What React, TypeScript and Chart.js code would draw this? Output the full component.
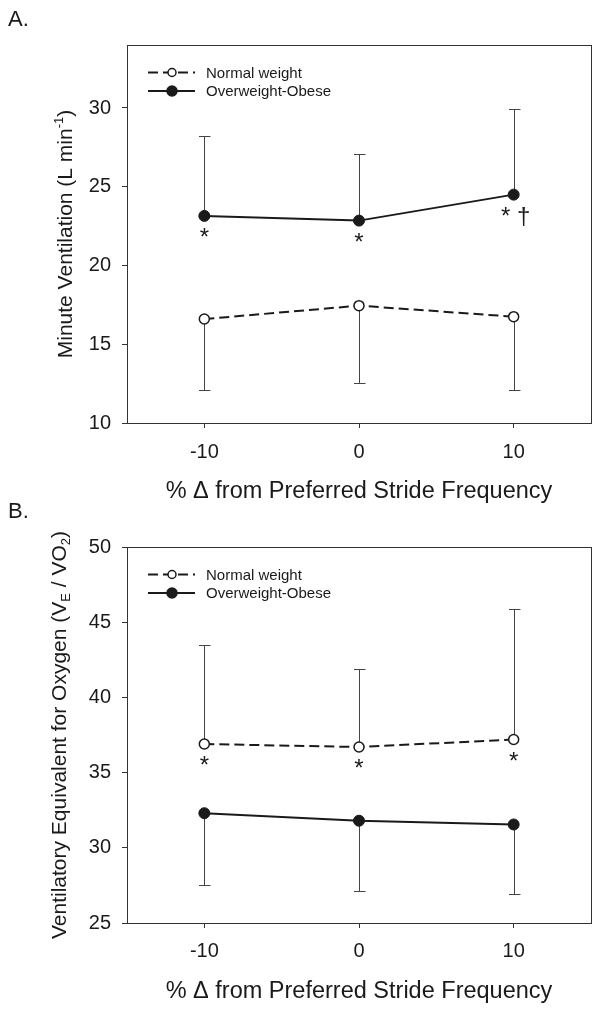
import React, { useEffect, useRef } from "react";
import { Chart, registerables } from "chart.js";
Chart.register(...registerables);

const FONT = "'Liberation Sans', Arial, Helvetica, sans-serif";
const INK = "#1a1a1a";

// Shared x values / ticks
const strideX = [-10, 0, 10];
const xTicks = [-10, 0, 10];
const xTitle = "% \u0394 from Preferred Stride Frequency";
const seriesNames = ["Normal weight", "Overweight-Obese"];

// Panel A: Minute ventilation
const veNormal = [16.6, 17.45, 16.75];
const veNormalErrEnd = [12.1, 12.55, 12.1];
const veOver = [23.15, 22.85, 24.5];
const veOverErrEnd = [28.25, 27.1, 29.95];
const veTicks = [10, 15, 20, 25, 30];
const veSig = ["*", "*", "* \u2020"];

// Panel B: Ventilatory equivalent for oxygen
const eqNormal = [36.9, 36.7, 37.2];
const eqNormalErrEnd = [43.5, 41.9, 45.9];
const eqOver = [32.3, 31.8, 31.55];
const eqOverErrEnd = [27.5, 27.1, 26.95];
const eqTicks = [25, 30, 35, 40, 45, 50];
const eqSig = ["*", "*", "*"];

type Seg = { t: string; sub?: boolean; sup?: boolean };

interface PanelCfg {
  letter: string;
  yMin: number;
  yMax: number;
  yTicks: number[];
  normal: number[];
  normalErr: number[];
  over: number[];
  overErr: number[];
  sig: string[];
  sigOn: "normal" | "over";
  yTitle: Seg[];
  yTitleBaseX: number;
  padTop: number;
  plotBottom: number;
  canvasH: number;
  xTitlePadBottom: number;
  xTickPad: number;
  letterY: number;
}

const panelA: PanelCfg = {
  letter: "A.",
  yMin: 10,
  yMax: 34,
  yTicks: veTicks,
  normal: veNormal,
  normalErr: veNormalErrEnd,
  over: veOver,
  overErr: veOverErrEnd,
  sig: veSig,
  sigOn: "over",
  yTitle: [{ t: "Minute Ventilation (L min" }, { t: "-1", sup: true }, { t: ")" }],
  yTitleBaseX: 72,
  padTop: 45,
  plotBottom: 423,
  canvasH: 507,
  xTitlePadBottom: 1,
  xTickPad: 12,
  letterY: 26,
};

const panelB: PanelCfg = {
  letter: "B.",
  yMin: 25,
  yMax: 50,
  yTicks: eqTicks,
  normal: eqNormal,
  normalErr: eqNormalErrEnd,
  over: eqOver,
  overErr: eqOverErrEnd,
  sig: eqSig,
  sigOn: "normal",
  yTitle: [
    { t: "Ventilatory Equivalent for Oxygen (V" },
    { t: "E", sub: true },
    { t: " / VO" },
    { t: "2", sub: true },
    { t: ")" },
  ],
  yTitleBaseX: 66,
  padTop: 52,
  plotBottom: 428,
  canvasH: 519,
  xTitlePadBottom: 8,
  xTickPad: 11,
  letterY: 23,
};

function Panel({ cfg, top }: { cfg: PanelCfg; top: number }) {
  const ref = useRef<HTMLCanvasElement>(null);
  useEffect(() => {
    const canvas = ref.current!;
    const toXY = (ys: number[]) => strideX.map((x, i) => ({ x, y: ys[i] }));

    const overlay = {
      id: "overlay",
      beforeDatasetsDraw(chart: any) {
        const ctx = chart.ctx;
        const xs = chart.scales.x;
        const ys = chart.scales.y;
        const ca = chart.chartArea;
        ctx.save();
        // box
        ctx.strokeStyle = "#333";
        ctx.lineWidth = 1;
        ctx.strokeRect(
          Math.round(ca.left) + 0.5,
          Math.round(ca.top) + 0.5,
          Math.round(ca.right - ca.left),
          Math.round(ca.bottom - ca.top)
        );
        // error bars
        ctx.strokeStyle = "#444";
        ctx.lineWidth = 1;
        const bars = [
          [cfg.normal, cfg.normalErr],
          [cfg.over, cfg.overErr],
        ];
        bars.forEach(([vals, ends]) => {
          strideX.forEach((xv, i) => {
            const px = Math.round(xs.getPixelForValue(xv)) + 0.5;
            const p0 = ys.getPixelForValue(vals[i]);
            const p1 = Math.round(ys.getPixelForValue(ends[i])) + 0.5;
            ctx.beginPath();
            ctx.moveTo(px, p0);
            ctx.lineTo(px, p1);
            ctx.moveTo(px - 5.5, p1);
            ctx.lineTo(px + 6, p1);
            ctx.stroke();
          });
        });
        ctx.restore();
      },
      afterDatasetsDraw(chart: any) {
        const ctx = chart.ctx;
        const xs = chart.scales.x;
        const ys = chart.scales.y;
        const ca = chart.chartArea;
        ctx.save();
        // significance marks
        ctx.fillStyle = INK;
        ctx.font = `24px ${FONT}`;
        ctx.textAlign = "center";
        ctx.textBaseline = "alphabetic";
        const base = cfg.sigOn === "over" ? cfg.over : cfg.normal;
        strideX.forEach((xv, i) => {
          const px = xs.getPixelForValue(xv);
          const py = ys.getPixelForValue(base[i]);
          ctx.fillText(cfg.sig[i], px + (cfg.sig[i].length > 1 ? 2 : 0), py + 29);
        });
        // legend
        const lx0 = ca.left + 21;
        const lx1 = ca.left + 68;
        const lcx = ca.left + 45;
        const rows = [ca.top + 27.5, ca.top + 46];
        ctx.font = `15px ${FONT}`;
        ctx.textAlign = "left";
        ctx.textBaseline = "middle";
        rows.forEach((ry, k) => {
          ctx.strokeStyle = INK;
          ctx.lineWidth = 2;
          ctx.setLineDash(k === 0 ? [10, 5] : []);
          ctx.beginPath();
          ctx.moveTo(lx0, ry);
          ctx.lineTo(lx1, ry);
          ctx.stroke();
          ctx.setLineDash([]);
          ctx.beginPath();
          ctx.arc(lcx, ry, k === 0 ? 4 : 5, 0, Math.PI * 2);
          ctx.fillStyle = k === 0 ? "#fff" : INK;
          ctx.fill();
          ctx.lineWidth = 1.5;
          ctx.stroke();
          ctx.fillStyle = INK;
          ctx.fillText(seriesNames[k], ca.left + 79, ry + 1);
        });
        // y title (rotated, with sub/superscripts)
        const fs = 21;
        const small = 13;
        const widthOf = (s: Seg) => {
          ctx.font = `${s.sub || s.sup ? small : fs}px ${FONT}`;
          return ctx.measureText(s.t).width;
        };
        const total = cfg.yTitle.reduce((a, s) => a + widthOf(s), 0);
        const cy = (ca.top + ca.bottom) / 2;
        ctx.translate(cfg.yTitleBaseX, cy);
        ctx.rotate(-Math.PI / 2);
        ctx.textAlign = "left";
        ctx.textBaseline = "alphabetic";
        ctx.fillStyle = INK;
        let cx = -total / 2;
        cfg.yTitle.forEach((s) => {
          const w = widthOf(s);
          const dy = s.sub ? 4 : s.sup ? -9 : 0;
          ctx.fillText(s.t, cx, dy);
          cx += w;
        });
        ctx.setTransform(1, 0, 0, 1, 0, 0);
        // panel letter
        ctx.font = `22px ${FONT}`;
        ctx.textAlign = "left";
        ctx.fillStyle = INK;
        ctx.fillText(cfg.letter, 8, cfg.letterY);
        ctx.restore();
      },
    };

    const chart = new Chart(canvas, {
      type: "line",
      data: {
        datasets: [
          {
            label: seriesNames[0],
            data: toXY(cfg.normal),
            borderColor: INK,
            borderWidth: 2,
            borderDash: [10, 5],
            pointRadius: 5,
            pointBackgroundColor: "#fff",
            pointBorderColor: INK,
            pointBorderWidth: 1.5,
            tension: 0,
          },
          {
            label: seriesNames[1],
            data: toXY(cfg.over),
            borderColor: INK,
            borderWidth: 2,
            pointRadius: 5.5,
            pointBackgroundColor: INK,
            pointBorderColor: INK,
            pointBorderWidth: 1,
            tension: 0,
          },
        ],
      },
      options: {
        responsive: false,
        animation: false,
        devicePixelRatio: 1,
        layout: { padding: { top: cfg.padTop, right: 10, left: 0, bottom: 0 } },
        plugins: { legend: { display: false }, tooltip: { enabled: false }, title: { display: false } },
        scales: {
          x: {
            type: "linear",
            min: -15,
            max: 15,
            afterBuildTicks: (s: any) => {
              s.ticks = xTicks.map((v) => ({ value: v }));
            },
            afterFit: (s: any) => {
              s.height = cfg.canvasH - cfg.plotBottom;
            },
            grid: { display: true, drawOnChartArea: false, drawTicks: true, tickLength: 5, tickColor: "#333" },
            border: { display: false },
            ticks: { color: INK, font: { family: FONT, size: 20 }, padding: cfg.xTickPad, maxRotation: 0 },
            title: {
              display: true,
              text: xTitle,
              color: INK,
              font: { family: FONT, size: 23.5 },
              padding: { top: 0, bottom: cfg.xTitlePadBottom },
            },
          },
          y: {
            type: "linear",
            min: cfg.yMin,
            max: cfg.yMax,
            afterBuildTicks: (s: any) => {
              s.ticks = cfg.yTicks.map((v) => ({ value: v }));
            },
            afterFit: (s: any) => {
              s.width = 127;
            },
            grid: { display: true, drawOnChartArea: false, drawTicks: true, tickLength: 5, tickColor: "#333" },
            border: { display: false },
            ticks: { color: INK, font: { family: FONT, size: 20 }, padding: 11 },
          },
        },
      },
      plugins: [overlay],
    } as any);
    return () => chart.destroy();
  }, []);
  return (
    <canvas
      ref={ref}
      width={601}
      height={cfg.canvasH}
      style={{ position: "absolute", left: 0, top, width: 601, height: cfg.canvasH, display: "block" }}
    />
  );
}

export default function App() {
  return (
    <div style={{ position: "absolute", left: 0, top: 0, width: 601, height: 1014, background: "#fff", overflow: "hidden" }}>
      <Panel cfg={panelA} top={0} />
      <Panel cfg={panelB} top={495} />
    </div>
  );
}
